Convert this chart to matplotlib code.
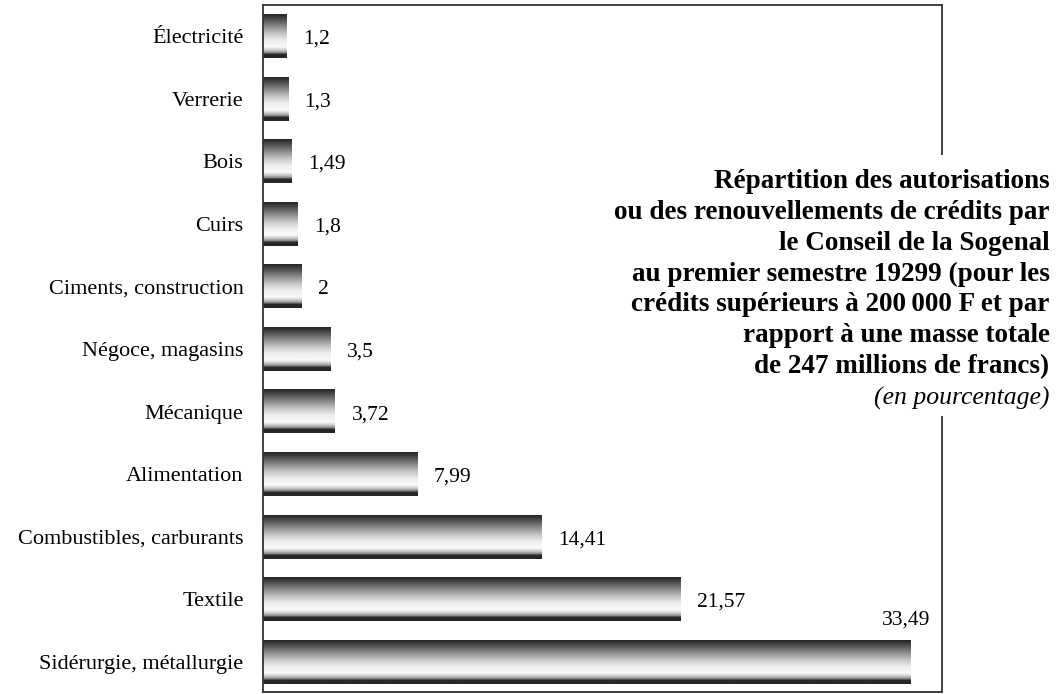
import numpy as np
import matplotlib.pyplot as plt

categories = ['Sidérurgie, métallurgie', 'Textile', 'Combustibles, carburants',
              'Alimentation', 'Mécanique', 'Négoce, magasins',
              'Ciments, construction', 'Cuirs', 'Bois', 'Verrerie', 'Électricité']
values = [33.49, 21.57, 14.41, 7.99, 3.72, 3.5, 2, 1.8, 1.49, 1.3, 1.2]
value_labels = ['33,49', '21,57', '14,41', '7,99', '3,72', '3,5', '2', '1,8',
                '1,49', '1,3', '1,2']

title_lines = ['Répartition des autorisations',
               'ou des renouvellements de crédits par',
               'le Conseil de la Sogenal',
               'au premier semestre 19299 (pour les',
               'crédits supérieurs à 200\u2009000 F et par',
               'rapport à une masse totale',
               'de 247 millions de francs)']
subtitle = '(en pourcentage)'

plt.rcParams['font.family'] = ['Liberation Serif', 'DejaVu Serif']

fig = plt.figure(figsize=(10.58, 6.94), dpi=100)
ax = fig.add_axes([0.2486, 0.003, 0.6418, 0.990])

y = np.arange(len(categories))
bars = ax.barh(y, values, height=0.7, color='none', edgecolor='none')

# cylinder-like shading, dark top, light middle, dark thin stripe at bottom
stops = [0, .08, .25, .45, .6, .75, .82, .88, .92, 1]
grays = [.15, .25, .5, .78, .93, .98, .8, .55, .15, .15]
shade = np.interp(np.linspace(0, 1, 100), stops, grays).reshape(-1, 1)

for b in bars:
    x0, y0, w, h = b.get_x(), b.get_y(), b.get_width(), b.get_height()
    ax.imshow(shade, extent=(x0, x0 + w, y0, y0 + h), aspect='auto',
              cmap='gray', vmin=0, vmax=1, interpolation='bilinear', zorder=2)

xmax = 35.1
for yi, v, lab in zip(y, values, value_labels):
    if v + 3 > xmax:
        ax.text(v + 1.0, yi + 0.67, lab, ha='right', va='center', fontsize=15.5)
    else:
        ax.text(max(v + 0.85, 2.07), yi - 0.05, lab, ha='left', va='center',
                fontsize=15.5)

ax.set_xlim(0, xmax)
ax.set_ylim(-0.48, 10.5)
ax.set_xticks([])
ax.set_yticks(y, categories, fontsize=16)
ax.tick_params(length=0, pad=14)
for s in ax.spines.values():
    s.set_color('#333333')
    s.set_linewidth(1.3)

fig.text(0.992, 1 - 274 / 694, '\n'.join(title_lines), ha='right', va='center',
         multialignment='right', fontsize=19.5, fontweight='bold', linespacing=1.31,
         bbox=dict(facecolor='white', edgecolor='none', pad=10))
fig.text(0.992, 1 - 398 / 694, subtitle, ha='right', va='center',
         fontsize=18.5, style='italic',
         bbox=dict(facecolor='white', edgecolor='none', pad=5))

fig.savefig('out.png', dpi=100)
